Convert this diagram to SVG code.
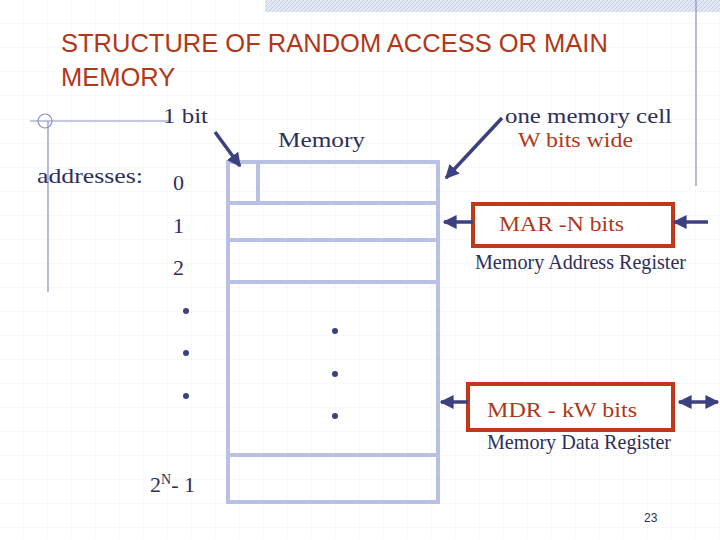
<svg xmlns="http://www.w3.org/2000/svg" width="720" height="540" viewBox="0 0 720 540">
<defs>
<pattern id="grid" width="24" height="24" patternUnits="userSpaceOnUse"><path d="M24 0V24H0" fill="none" stroke="#e4e6ee" stroke-width="1" stroke-dasharray="1 1"/></pattern>
<pattern id="hatch" width="4" height="4" patternUnits="userSpaceOnUse"><rect width="4" height="4" fill="#e3e8f5"/><path d="M0 4L4 0" stroke="#c5cde6" stroke-width="1"/></pattern>
<marker id="ah" viewBox="0 0 10 10" refX="9" refY="5" markerWidth="4" markerHeight="4" orient="auto-start-reverse"><path d="M0 0L10 5L0 10z" fill="#3c4080"/></marker>
</defs>
<style>
.t{font-family:"Liberation Serif",serif;font-size:22px;fill:#2e2e5a}
.r{font-family:"Liberation Serif",serif;fill:#b03818}
.mem{fill:none;stroke:#b8c0e6;stroke-width:4}
.reg{fill:#fff;stroke:#c03818;stroke-width:4}
.ar{stroke:#3c4080;stroke-width:3.5;fill:none}
.dot{fill:#3c4080}
</style>
<rect width="720" height="540" fill="#fff"/>
<rect width="720" height="540" fill="url(#grid)"/>
<rect x="265" y="0" width="455" height="12" fill="url(#hatch)"/>
<line x1="696" y1="0" x2="696" y2="186" stroke="#8890c0" stroke-width="1.2"/>
<line x1="30" y1="121" x2="170" y2="121" stroke="#8890c0" stroke-width="1.2"/>
<circle cx="45" cy="121" r="7" fill="none" stroke="#8890c0" stroke-width="1.2"/>
<line x1="48" y1="121" x2="48" y2="292" stroke="#8890c0" stroke-width="1.2"/>
<text x="61" y="52" font-family="Liberation Sans,sans-serif" font-size="25.5" fill="#b03818">STRUCTURE OF RANDOM ACCESS OR MAIN</text>
<text x="61" y="86" font-family="Liberation Sans,sans-serif" font-size="25.5" fill="#b03818">MEMORY</text>
<g id="labels">
<text class="t" x="163" y="123" textLength="45" lengthAdjust="spacingAndGlyphs">1 bit</text>
<text class="t" x="278" y="147" textLength="87" lengthAdjust="spacingAndGlyphs">Memory</text>
<text class="t" x="505" y="123" font-size="22" textLength="167" lengthAdjust="spacingAndGlyphs">one memory cell</text>
<text class="r" x="518" y="147" font-size="21" textLength="115" lengthAdjust="spacingAndGlyphs">W bits wide</text>
<text class="t" x="37" y="183" font-size="23" textLength="106" lengthAdjust="spacingAndGlyphs">addresses:</text>
<text class="t" x="173" y="190">0</text>
<text class="t" x="173" y="233">1</text>
<text class="t" x="173" y="275">2</text>
<text class="t" x="150" y="492">2<tspan font-size="14" dy="-8">N</tspan><tspan dy="8">- 1</tspan></text>
<text x="644" y="522" font-family="Liberation Sans,sans-serif" font-size="12" fill="#2e2e5a">23</text>
</g>
<g id="memory">
<rect class="mem" x="228" y="162" width="210" height="340"/>
<line class="mem" x1="258" y1="162" x2="258" y2="203"/>
<line class="mem" x1="228" y1="203" x2="438" y2="203"/>
<line class="mem" x1="228" y1="240" x2="438" y2="240"/>
<line class="mem" x1="228" y1="282" x2="438" y2="282"/>
<line class="mem" x1="228" y1="455" x2="438" y2="455"/>
<circle class="dot" cx="186" cy="311" r="3"/><circle class="dot" cx="186" cy="353" r="3"/><circle class="dot" cx="186" cy="396" r="3"/>
<circle class="dot" cx="335" cy="331" r="3"/><circle class="dot" cx="335" cy="374" r="3"/><circle class="dot" cx="335" cy="416" r="3"/>
</g>
<g id="mar">
<rect class="reg" x="473" y="204" width="200" height="42"/>
<text class="r" x="499" y="231" font-size="22" textLength="125" lengthAdjust="spacingAndGlyphs">MAR -N bits</text>
<text class="t" x="475" y="269" font-size="16" textLength="211" lengthAdjust="spacingAndGlyphs">Memory Address Register</text>
</g>
<g id="mdr">
<rect class="reg" x="468" y="384" width="205" height="46"/>
<text class="r" x="487" y="417" font-size="22" textLength="150" lengthAdjust="spacingAndGlyphs">MDR - kW bits</text>
<text class="t" x="487" y="449" font-size="16" textLength="184" lengthAdjust="spacingAndGlyphs">Memory Data Register</text>
</g>
<g id="connectors">
<line class="ar" x1="215" y1="132" x2="240" y2="166" marker-end="url(#ah)"/>
<line class="ar" x1="502" y1="118" x2="446" y2="178" marker-end="url(#ah)"/>
<line class="ar" x1="473" y1="222" x2="444" y2="222" marker-end="url(#ah)"/>
<line class="ar" x1="708" y1="222" x2="674" y2="222" marker-end="url(#ah)"/>
<line class="ar" x1="441" y1="402" x2="468" y2="402" marker-start="url(#ah)"/>
<line class="ar" x1="679" y1="402" x2="718" y2="402" marker-start="url(#ah)" marker-end="url(#ah)"/>
</g>
</svg>
